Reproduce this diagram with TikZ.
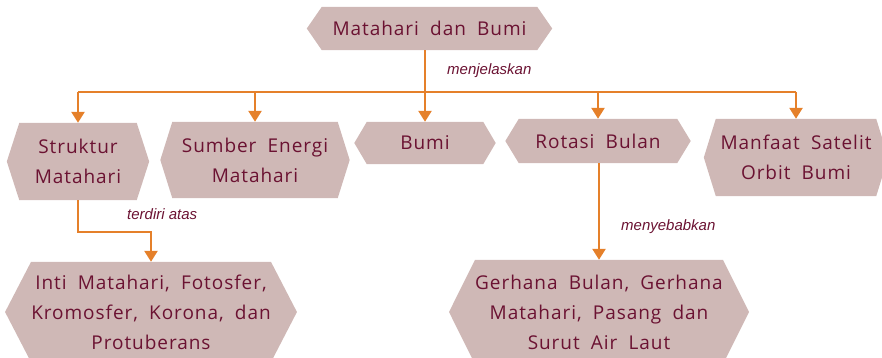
\documentclass[tikz,border=0pt]{standalone}
\usepackage{fontspec}
\setmainfont{Liberation Sans}
\newfontfamily\boxfont[LetterSpace=5,WordSpace=1.9]{Open Sans}
\usetikzlibrary{arrows.meta}
\definecolor{boxfill}{HTML}{CFB8B6}
\definecolor{txt}{HTML}{6B1232}
\definecolor{arrc}{HTML}{E5802A}
\pgfdeclarelayer{bg}\pgfsetlayers{bg,main}
\newcommand\hexfill[2]{%
 \fill[boxfill] (#1.north west) -- (#1.north east) -- ([xshift=#2]#1.east) -- (#1.south east) -- (#1.south west) -- ([xshift=-#2]#1.west) -- cycle;}
\tikzset{
 hexbox/.style={rectangle, inner sep=0pt, align=center, text=txt,
   font=\boxfont\fontsize{19}{30}\selectfont},
 lab/.style={inner sep=0pt, text=txt, font=\fontsize{15}{17}\selectfont\itshape},
 conn/.style={draw=arrc, line width=2.5pt},
 arrow/.style={conn, -{Triangle[width=13pt,length=11pt]}}
}
\begin{document}
\begin{tikzpicture}[x=1pt,y=-1pt]
\useasboundingbox (0,0) rectangle (882,358);
\node[hexbox, minimum width=215pt, minimum height=43pt] (T) at (429.5,28.5) {Matahari dan Bumi};
\node[hexbox, minimum width=117pt, minimum height=77pt] (S) at (78,161.5) {Struktur\\Matahari};
\node[hexbox, minimum width=165pt, minimum height=76pt] (E) at (255,160) {Sumber Energi\\Matahari};
\node[hexbox, minimum width=116pt, minimum height=42pt] (B) at (425,143) {Bumi};
\node[hexbox, minimum width=158pt, minimum height=44pt] (R) at (598,141) {Rotasi Bulan};
\node[hexbox, minimum width=160pt, minimum height=77pt] (M) at (796,157.5) {Manfaat Satelit\\Orbit Bumi};
\node[hexbox, minimum width=236pt, minimum height=100pt] (I) at (151,312) {Inti Matahari, Fotosfer,\\Kromosfer, Korona, dan\\Protuberans};
\node[hexbox, minimum width=236pt, minimum height=104pt] (G) at (599,312) {Gerhana Bulan, Gerhana\\Matahari, Pasang dan\\Surut Air Laut};
\begin{pgfonlayer}{bg}
\hexfill{T}{15pt}
\hexfill{S}{12.5pt}
\hexfill{E}{12pt}
\hexfill{B}{12.5pt}
\hexfill{R}{13.5pt}
\hexfill{M}{12pt}
\hexfill{I}{26pt}
\hexfill{G}{26pt}
\end{pgfonlayer}
\coordinate (bus) at (0,92);
\coordinate (k1) at (0,232);
\draw[conn] (B.north |- T.south) -- (B.north |- bus);
\draw[conn] (S.north |- bus) -- (M.north |- bus);
\foreach \n in {S,E,B,R,M} \draw[arrow] (\n.north |- bus) -- (\n.north);
\draw[arrow] (S.south) -- (S.south |- k1) -| (I.north);
\draw[arrow] (R.south -| G.north) -- (G.north);
\node[lab, anchor=west] (l1) at (447,71) {menjelaskan};
\node[lab, anchor=west] (l2) at (127,214) {terdiri atas};
\node[lab, anchor=west] (l3) at (621,227) {menyebabkan};
\end{tikzpicture}
\end{document}
